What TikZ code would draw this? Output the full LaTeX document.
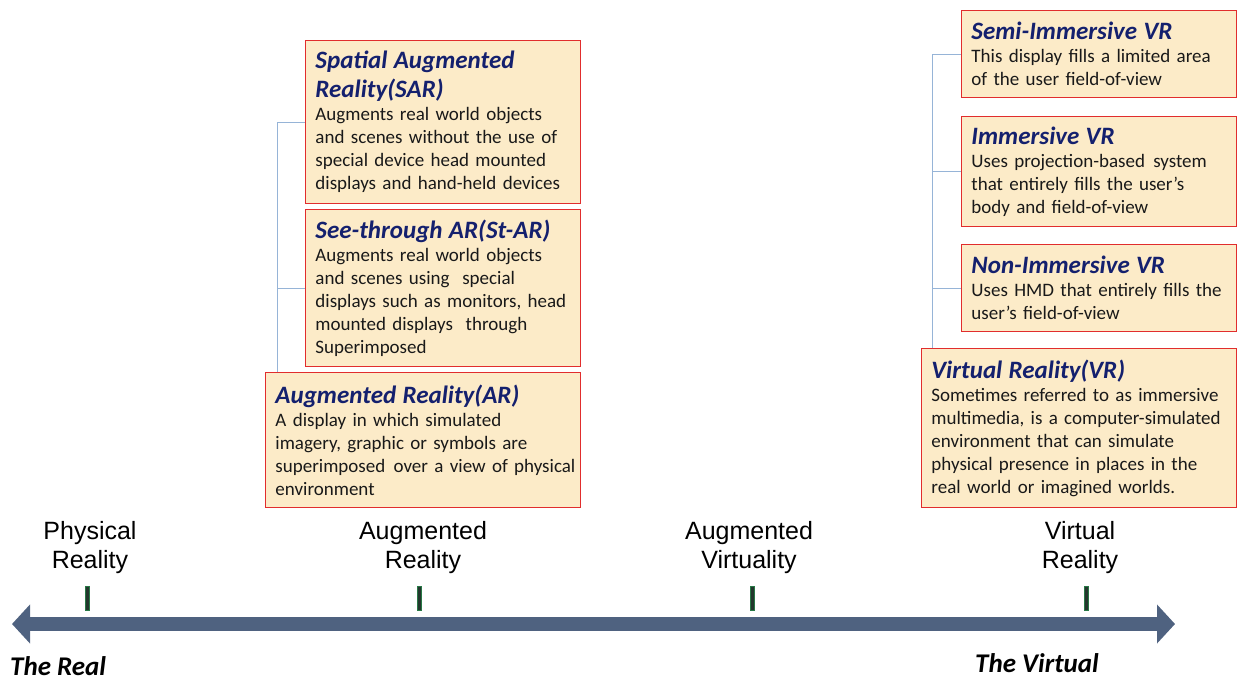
\documentclass[tikz,border=0pt]{standalone}
\usepackage{fontspec}
\setmainfont{Carlito}
\newfontfamily\axisfont{Liberation Sans}
\usepackage{xcolor}
\usepackage{tikz}
\usetikzlibrary{positioning,arrows.meta}

\definecolor{boxfill}{RGB}{252,235,200}
\definecolor{boxred}{RGB}{225,45,45}
\definecolor{titlenavy}{RGB}{20,32,110}
\definecolor{treeblue}{RGB}{150,180,215}
\definecolor{axisblue}{RGB}{79,98,128}
\definecolor{tickdark}{RGB}{35,55,45}
\definecolor{tickgreen}{RGB}{40,120,70}

\newcommand{\boxtitle}[1]{{\fontsize{25}{29}\selectfont\bfseries\itshape\color{titlenavy}#1\par}}

\begin{document}
\begin{tikzpicture}[x=1pt, y=-1pt,
                infobox/.style={draw=boxred, line width=0.9pt, fill=boxfill, anchor=north west,
                    align=left, inner xsep=10pt, inner ysep=3pt,
                    font=\fontsize{19}{23}\selectfont, text=black!90},
                narrowbox/.style={infobox, text width=255pt},
                widebox/.style={infobox, text width=295pt},
                treeline/.style={draw=treeblue, line width=0.7pt},
                tick/.style={fill=tickdark, draw=tickgreen, line width=0.6pt, minimum width=4pt,
                    minimum height=24pt, inner sep=0pt},
                axislabel/.style={font=\axisfont\fontsize{25}{29}\selectfont, align=center, inner sep=0pt},
                endlabel/.style={font=\fontsize{27}{32}\selectfont\bfseries\itshape, inner sep=0pt, anchor=base west}
            ]
        \useasboundingbox (0,0) rectangle (1239,680);

        % Augmented reality side
        \node (sar) [narrowbox, minimum height=163pt] at (305,40)
            {\boxtitle{Spatial Augmented\\Reality(SAR)}Augments real world objects\\and scenes without the use of\\special device head mounted\\ \mbox{displays and hand-held devices}};
        \node (star) [narrowbox, minimum height=157pt] at (305,209)
            {\boxtitle{See-through AR(St-AR)}Augments real world objects\\and scenes using\ \ special\\ \mbox{displays such as monitors, head}\\mounted displays\ \ through\\Superimposed};
        \node (ar) [widebox, minimum height=135pt] at (265,372)
            {\boxtitle{Augmented Reality(AR)}A display in which simulated\\imagery, graphic or symbols are\\ \mbox{superimposed\hspace{2pt} over a view of physical}\\environment};

        % Virtual reality side
        \node (semi) [narrowbox, minimum height=87pt] at (961,10)
            {\boxtitle{Semi-Immersive VR}\mbox{This display fills a limited area}\\of the user field-of-view};
        \node (imm) [narrowbox, minimum height=110pt] at (961,116)
            {\boxtitle{Immersive VR}Uses projection-based\hspace{2pt} system\\that entirely fills the user's\\body and field-of-view};
        \node (nonimm) [narrowbox, minimum height=87pt] at (961,244)
            {\boxtitle{Non-Immersive VR}\mbox{Uses HMD that entirely fills the}\\user's field-of-view};
        \node (vr) [widebox, minimum height=159pt] at (921,348)
            {\boxtitle{Virtual Reality(VR)}Sometimes referred to as immersive\\ \mbox{multimedia, is a computer-simulated}\\environment that can simulate\\physical presence in places in the\\real world or imagined worlds.};

        % Tree lines
        \draw[treeline] ([xshift=12pt]ar.north west) |- (sar.west);
        \draw[treeline] ([xshift=12pt]ar.north west) |- (star.west);
        \draw[treeline] ([xshift=11pt]vr.north west) |- (semi.west);
        \draw[treeline] ([xshift=11pt]vr.north west) |- (imm.west);
        \draw[treeline] ([xshift=11pt]vr.north west) |- (nonimm.west);

        % Continuum axis
        \coordinate (realend) at (12,624);
        \coordinate (virtualend) at (1175,624);
        \draw[axisblue, line width=14pt, {Triangle[length=18pt,width=38pt]}-{Triangle[length=18pt,width=38pt]}]
            (realend) -- (virtualend);

        \node (tickpr) [tick] at (87,598) {};
        \node (tickar) [tick] at (419,598) {};
        \node (tickav) [tick] at (752,598) {};
        \node (tickvr) [tick] at (1086,598) {};

        \node (labpr) [axislabel, above=12pt of tickpr, xshift=3pt] {Physical\\Reality};
        \node (labar) [axislabel, above=12pt of tickar, xshift=4pt] {Augmented\\Reality};
        \node (labav) [axislabel, above=12pt of tickav, xshift=-3pt] {Augmented\\Virtuality};
        \node (labvr) [axislabel, above=12pt of tickvr, xshift=-6pt] {Virtual\\Reality};

        \node (real) [endlabel] at (10,675) {The Real};
        \node (virtual) [endlabel] at (975,672) {The Virtual};

\end{tikzpicture}
\end{document}
